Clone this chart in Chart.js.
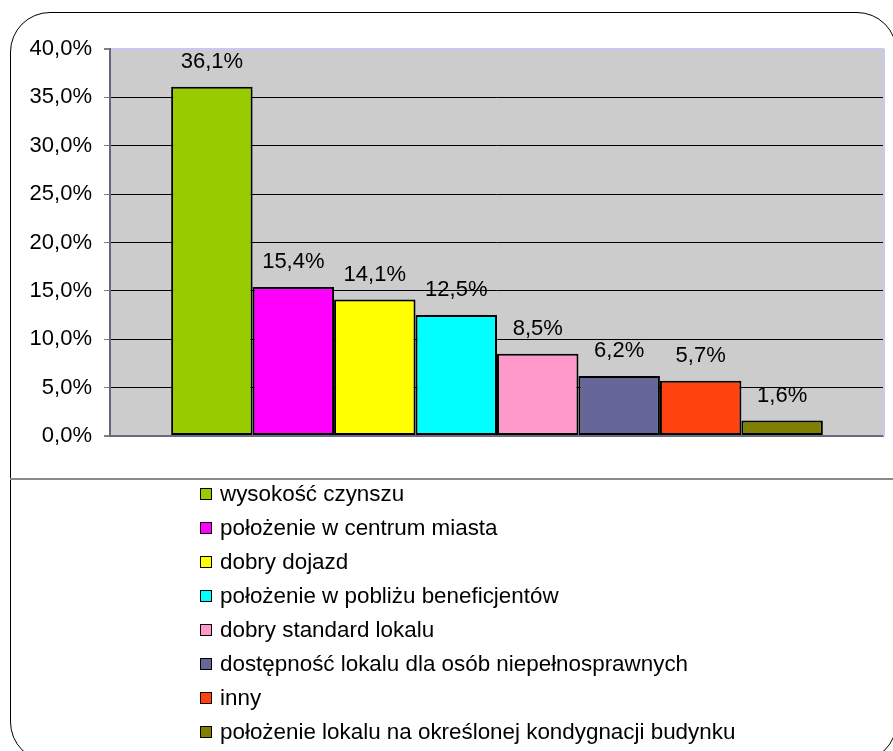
<!DOCTYPE html>
<html>
<head>
<meta charset="utf-8">
<script src="https://cdn.jsdelivr.net/npm/chart.js@4.4.1/dist/chart.umd.min.js"></script>
<style>
  body { margin: 0; background: #fff; width: 893px; height: 751px; overflow: hidden; position: relative; font-family: "Liberation Sans", Arial, sans-serif; }
  #frame { position: absolute; left: 10px; top: 12px; width: 887px; height: 750px; border: 1.5px solid #000; border-radius: 40px; box-sizing: border-box; }
  #sep { position: absolute; left: 10px; top: 478px; width: 883px; height: 2px; background: #8a8a8a; }
  #chartBox { position: absolute; left: 0; top: 0; width: 893px; height: 479px; }
  #legend { position: absolute; left: 200px; top: 477px; font-size: 22.4px; color: #000; }
  .legendRow { height: 34px; line-height: 34px; white-space: nowrap; display: flex; align-items: center; }
  .legendBox { width: 10px; height: 10px; border: 1.5px solid #000; margin-right: 8px; }
</style>
</head>
<body>
<div id="frame"></div>
<div id="sep"></div>
<div id="chartBox"><canvas id="locationFactors" width="893" height="479"></canvas></div>
<div id="legend"></div>
<script>
const categories = [
  'wysokość czynszu',
  'położenie w centrum miasta',
  'dobry dojazd',
  'położenie w pobliżu beneficjentów',
  'dobry standard lokalu',
  'dostępność lokalu dla osób niepełnosprawnych',
  'inny',
  'położenie lokalu na określonej kondygnacji budynku'
];
const shares = [36.1, 15.4, 14.1, 12.5, 8.5, 6.2, 5.7, 1.6];
const barColors = ['#99CC00', '#FF00FF', '#FFFF00', '#00FFFF', '#FF99CC', '#666699', '#FF420E', '#808000'];
const yTicks = { min: 0, max: 40, step: 5 };

function percentLabel(v)
{
    return v.toFixed(1).replace('.', ',') + '%';
}

function buildLegend()
{
    const legendDiv = document.getElementById('legend');
    for (let i = 0; i < categories.length; i++)
    {
        const row = document.createElement('div');
        row.classList.add('legendRow');
        const box = document.createElement('span');
        box.classList.add('legendBox');
        box.style.background = barColors[i];
        const text = document.createElement('span');
        text.textContent = categories[i];
        row.appendChild(box);
        row.appendChild(text);
        legendDiv.appendChild(row);
    }
}

// grey plot background + lavender right edge
const plotArea = {
    id: 'plotArea',
    beforeDraw(chart) {
        const a = chart.chartArea;
        const ctx = chart.ctx;
        ctx.save();
        ctx.fillStyle = '#cccccc';
        ctx.fillRect(a.left, a.top, a.right - a.left, a.bottom - a.top);
        ctx.restore();
    },
    afterDraw(chart) {
        const a = chart.chartArea;
        const ctx = chart.ctx;
        ctx.save();
        ctx.strokeStyle = '#c8c8f4';
        ctx.lineWidth = 2;
        ctx.beginPath();
        ctx.moveTo(a.right, a.top);
        ctx.lineTo(a.right, a.bottom);
        ctx.stroke();
        ctx.restore();
    }
};

// value labels above the bars
const valueLabels = {
    id: 'valueLabels',
    afterDatasetsDraw(chart) {
        const ctx = chart.ctx;
        ctx.save();
        ctx.font = '22px "Liberation Sans", Arial, sans-serif';
        ctx.fillStyle = '#000';
        ctx.textAlign = 'center';
        ctx.textBaseline = 'middle';
        chart.data.datasets.forEach((ds, i) => {
            const bar = chart.getDatasetMeta(i).data[0];
            ctx.fillText(percentLabel(ds.data[0]), bar.x, bar.y - 25);
        });
        ctx.restore();
    }
};

function showLocationChart()
{
    const ctx = document.getElementById('locationFactors').getContext('2d');

    const datasets = categories.map((name, i) => ({
        label: name,
        data: [shares[i]],
        backgroundColor: barColors[i],
        borderColor: '#000',
        borderWidth: 2,
        borderSkipped: false,
        categoryPercentage: 0.842,
        barPercentage: 1
    }));

    new Chart(ctx, {
        type: 'bar',
        data: { labels: [''], datasets: datasets },
        options: {
            responsive: false,
            animation: false,
            devicePixelRatio: 1,
            layout: { padding: { top: 49, right: 9, bottom: 43, left: 0 } },
            plugins: {
                legend: { display: false },
                tooltip: { enabled: false }
            },
            scales: {
                x: { display: false },
                y: {
                    min: yTicks.min,
                    max: yTicks.max,
                    afterFit(scale) { scale.width = 110; },
                    ticks: {
                        stepSize: yTicks.step,
                        padding: 12,
                        color: '#000',
                        font: { family: '"Liberation Sans", Arial, sans-serif', size: 22 },
                        callback: (v) => percentLabel(v)
                    },
                    grid: {
                        color: (c) => c.tick.value === yTicks.max ? '#c8c8f4' : (c.tick.value === 0 ? '#6a6a80' : '#000'),
                        lineWidth: (c) => (c.tick.value === yTicks.max || c.tick.value === 0) ? 2 : 1,
                        tickColor: '#808080',
                        tickLength: 6
                    },
                    border: { color: '#666680', width: 2 }
                }
            }
        },
        plugins: [plotArea, valueLabels]
    });
}

buildLegend();
showLocationChart();
</script>
</body>
</html>
